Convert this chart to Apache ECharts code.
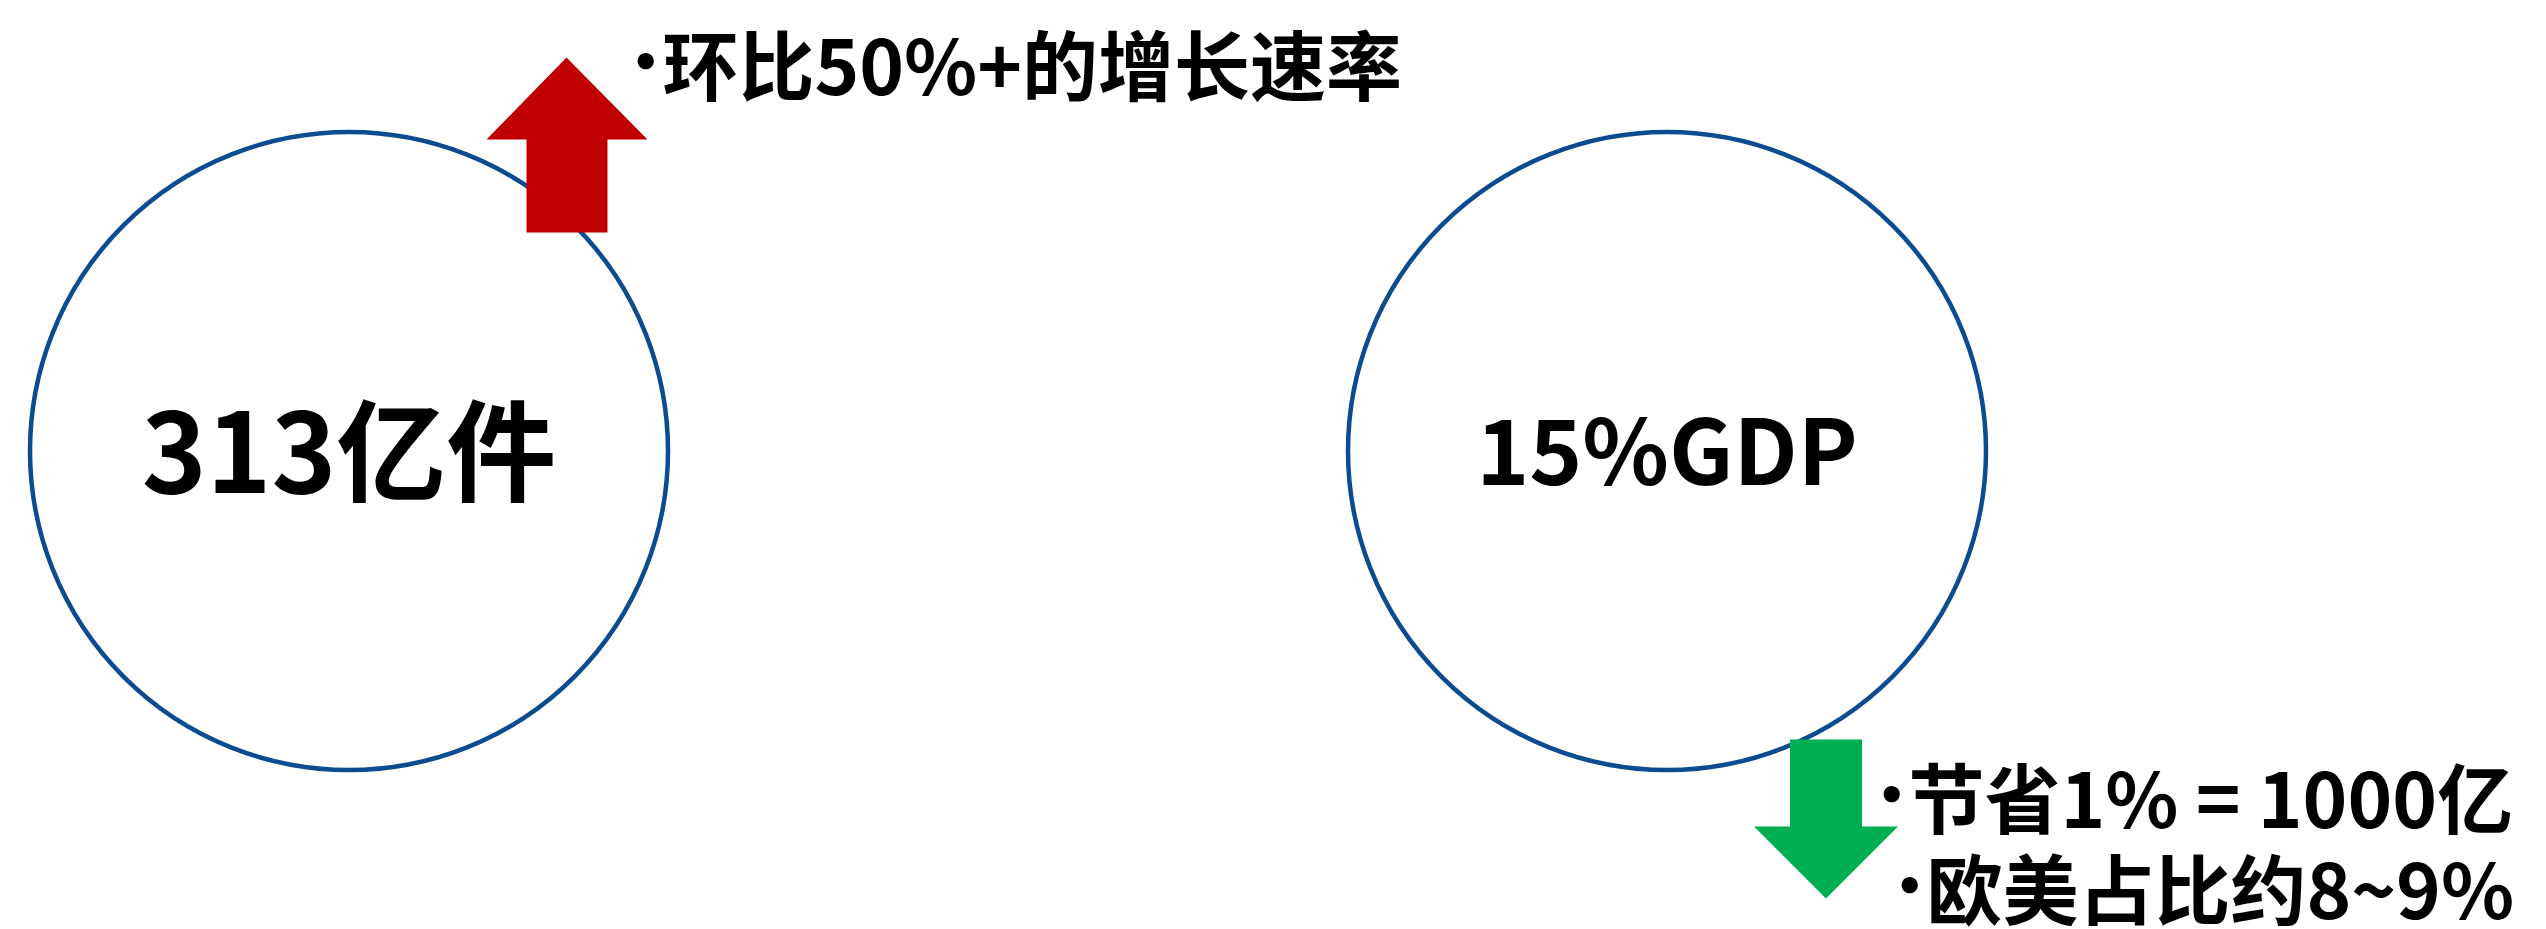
<!DOCTYPE html>
<html>
<head>
<meta charset="utf-8">
<script src="https://cdn.jsdelivr.net/npm/echarts@6/dist/echarts.min.js"></script>
<style>
    html, body { margin: 0; padding: 0; background: #fff; }
    #main { width: 2546px; height: 929px; }
</style>
</head>
<body>
<div id="main"></div>
<script>
// text content
const headlines = ['313亿件', '15%GDP'];
const upNotes = ['环比50%+的增长速率'];
const downNotes = ['节省1% = 1000亿', '欧美占比约8~9%'];

// layout in page pixels (axes are mapped 1:1 to the canvas)
const circlePos = [[349, 451], [1667, 451]];
const upArrowPos = [567, 145];
const downArrowPos = [1826, 819];
const upNotePos = [[631, 66]];
const downNotePos = [[1877, 799], [1895, 890]];

const fontFamily = '"Noto Sans CJK SC", "Noto Sans", sans-serif';

const upArrow = 'path://M80,0 L161,82 L121,82 L121,175 L40,175 L40,82 L0,82 Z';
const downArrow = 'path://M36,0 L108,0 L108,87 L144,87 L72,159 L0,87 L36,87 Z';

const noteLabel = {
    show: true,
    position: 'right',
    distance: 0,
    formatter: p => '{b|•}' + p.name,
    color: '#000',
    fontSize: 76,
    fontWeight: 'bold',
    fontFamily: fontFamily,
    rich: {
        b: {
            fontFamily: '"DejaVu Sans"',
            fontSize: 46,
            fontWeight: 'bold',
            color: '#000',
            padding: [0, 2, 0, 0]
        }
    }
};

const chart = echarts.init(document.getElementById('main'));
chart.setOption({
    animation: false,
    grid: { left: 0, right: 0, top: 0, bottom: 0 },
    xAxis: { type: 'value', min: 0, max: 2546, show: false },
    yAxis: { type: 'value', min: 0, max: 929, inverse: true, show: false },
    series: [
        //圆圈
        {
            type: 'scatter',
            symbol: 'circle',
            symbolSize: 638,
            clip: false,
            silent: true,
            itemStyle: {
                color: 'rgba(255,255,255,0)',
                borderColor: '#0b4b8f',
                borderWidth: 4.5,
                opacity: 1
            },
            label: {
                show: true,
                position: 'inside',
                formatter: p => p.name,
                color: '#000',
                fontWeight: 'bold',
                fontFamily: fontFamily
            },
            data: headlines.map((h, i) => ({
                name: h,
                value: circlePos[i],
                label: { fontSize: i === 0 ? 110 : 90 }
            }))
        },
        //箭头
        {
            type: 'scatter',
            symbol: upArrow,
            symbolSize: [161, 175],
            clip: false,
            silent: true,
            itemStyle: { color: '#c00000', opacity: 1 },
            data: [upArrowPos]
        },
        {
            type: 'scatter',
            symbol: downArrow,
            symbolSize: [144, 159],
            clip: false,
            silent: true,
            itemStyle: { color: '#00b050', opacity: 1 },
            data: [downArrowPos]
        },
        //说明文字
        {
            type: 'scatter',
            symbolSize: 0,
            clip: false,
            silent: true,
            itemStyle: { opacity: 1 },
            label: noteLabel,
            data: upNotes.map((t, i) => ({ name: t, value: upNotePos[i] }))
        },
        {
            type: 'scatter',
            symbolSize: 0,
            clip: false,
            silent: true,
            itemStyle: { opacity: 1 },
            label: noteLabel,
            data: downNotes.map((t, i) => ({ name: t, value: downNotePos[i] }))
        }
    ]
});
</script>
</body>
</html>
